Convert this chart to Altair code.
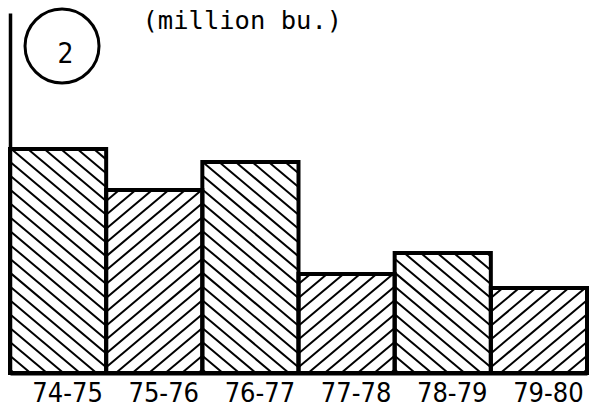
import altair as alt
import pandas as pd

# Crop years and volumes (million bu.)
seasons = ["74-75", "75-76", "76-77", "77-78", "78-79", "79-80"]
volumes = [224, 183, 211, 99, 120, 85]
# Hatch direction per bar: "\" falls to the right, "/" rises to the right
hatch_dirs = ["\\", "/", "\\", "/", "\\", "/"]

# Plot geometry (plot area only)
PLOT_W, PLOT_H = 577, 360
Y_MAX = 360
BAR_PX = PLOT_W / len(seasons)
PX_PER_Y = PLOT_H / Y_MAX

# Hatching parameters
HATCH_STEP = 16.5   # horizontal distance between hatch lines, px
HATCH_SLOPE = 0.84  # rise per px of run
HATCH_PHASE = 4.0

NARROW = "Liberation Sans Narrow, DejaVu Sans Condensed, DejaVu Sans"

bars = pd.DataFrame({
    "season": seasons,
    "volume": volumes,
    "start": list(range(len(seasons))),
    "end": [i + 1 for i in range(len(seasons))],
})


def hatch_segments():
    """Clip evenly spaced diagonal lines to each bar's rectangle (in px),
    then convert back to data units."""
    rows = []
    for i, (val, d) in enumerate(zip(volumes, hatch_dirs)):
        h = val * PX_PER_Y
        w = BAR_PX
        m = -HATCH_SLOPE if d == "\\" else HATCH_SLOPE
        dc = HATCH_STEP * HATCH_SLOPE
        if m < 0:
            c_lo, c_hi = 0.0, h + HATCH_SLOPE * w
        else:
            c_lo, c_hi = -HATCH_SLOPE * w, h
        c = c_lo + HATCH_PHASE * HATCH_SLOPE
        while c < c_hi:
            if m > 0:
                u_lo, u_hi = -c / m, (h - c) / m
            else:
                u_lo, u_hi = (h - c) / m, -c / m
            u_lo, u_hi = max(u_lo, 0.0), min(u_hi, w)
            if u_hi - u_lo > 0.5:
                x0 = i * BAR_PX + u_lo
                x1 = i * BAR_PX + u_hi
                y0 = m * u_lo + c
                y1 = m * u_hi + c
                rows.append({
                    "x": x0 / BAR_PX, "x2": x1 / BAR_PX,
                    "y": y0 / PX_PER_Y, "y2": y1 / PX_PER_Y,
                })
            c += dc
    return pd.DataFrame(rows)


hatch = hatch_segments()

x_scale = alt.Scale(domain=[0, len(seasons)], nice=False, zero=False)
y_scale = alt.Scale(domain=[0, Y_MAX], nice=False)

label_array = "[" + ",".join(f"'{s}'" for s in seasons) + "]"

x_axis = alt.Axis(
    values=[i + 0.5 for i in range(len(seasons))],
    labelExpr=f"{label_array}[floor(datum.value)]",
    title=None, grid=False, ticks=False, tickSize=0,
    labelPadding=7, labelOffset=9,
    labelFont=NARROW, labelFontSize=27, labelColor="black",
    domain=True, domainColor="black", domainWidth=4,
)
y_axis = alt.Axis(
    title="(million bu.)", titleAngle=0, titleX=132, titleY=15,
    titleAlign="left", titleBaseline="alphabetic",
    titleFont="DejaVu Sans Mono", titleFontSize=25.5,
    titleFontWeight="normal", titleColor="black",
    labels=False, ticks=False, grid=False,
    domain=True, domainColor="black", domainWidth=3.5,
)

hatch_layer = alt.Chart(hatch).mark_rule(
    color="black", strokeWidth=2
).encode(
    x=alt.X("x:Q", scale=x_scale, axis=x_axis),
    x2="x2:Q",
    y=alt.Y("y:Q", scale=y_scale, axis=y_axis),
    y2="y2:Q",
)

outline_layer = alt.Chart(bars).mark_rect(
    fillOpacity=0, stroke="black", strokeWidth=4, strokeJoin="miter"
).encode(
    x=alt.X("start:Q", scale=x_scale),
    x2="end:Q",
    y=alt.Y("volume:Q", scale=y_scale),
    y2=alt.datum(0),
)

# Circled chart number
ring = pd.DataFrame({"x": [0.541], "y": [327]})
number = pd.DataFrame({"x": [0.577], "y": [310], "label": ["2"]})
badge_ring = alt.Chart(ring).mark_point(
    shape="circle", size=5476, filled=False, stroke="black",
    strokeWidth=3, opacity=1
).encode(x=alt.X("x:Q", scale=x_scale), y=alt.Y("y:Q", scale=y_scale))
badge_text = alt.Chart(number).mark_text(
    font=NARROW, fontSize=28, color="black",
    align="center", baseline="alphabetic"
).encode(
    x=alt.X("x:Q", scale=x_scale), y=alt.Y("y:Q", scale=y_scale),
    text="label:N",
)

chart = alt.layer(hatch_layer, outline_layer, badge_ring, badge_text).properties(
    width=PLOT_W, height=PLOT_H,
    autosize=alt.AutoSizeParams(type="none"),
    padding={"left": 10, "top": 13, "right": 5, "bottom": 36},
    background="white",
).configure_view(stroke=None)

chart.save("out.html", embed_options={"renderer": "svg", "actions": False})
